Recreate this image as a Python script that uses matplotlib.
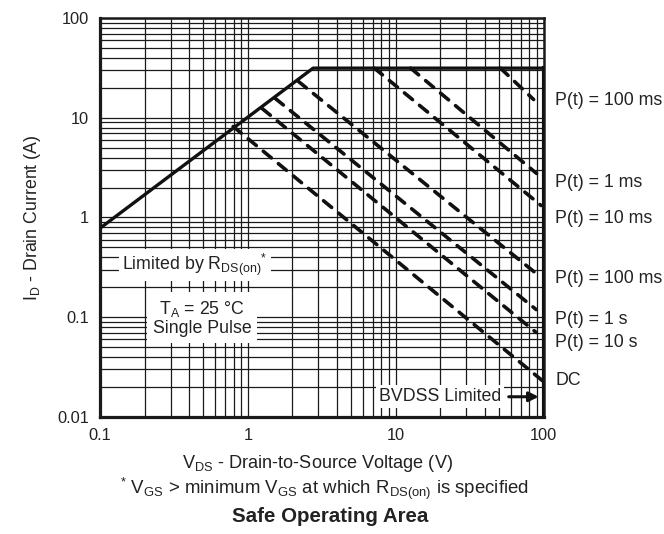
import matplotlib
matplotlib.use("Agg")
import matplotlib.pyplot as plt
from matplotlib.ticker import LogLocator, FixedLocator, NullFormatter

plt.rcParams['font.family'] = ['Liberation Sans', 'DejaVu Sans']
plt.rcParams['mathtext.fontset'] = 'custom'
plt.rcParams['mathtext.rm'] = 'Liberation Sans'
plt.rcParams['mathtext.it'] = 'Liberation Sans:italic'
plt.rcParams['mathtext.bf'] = 'Liberation Sans:bold'

# ---- data ----
x_ticks = [0.1, 1, 10, 100]
x_tick_labels = ["0.1", "1", "10", "100"]
y_ticks = [0.01, 0.1, 1, 10, 100]
y_tick_labels = ["0.01", "0.1", "1", "10", "100"]

# R_DS(on) / current limit line
vds_limit = [0.1, 2.76, 100]
id_limit = [0.78, 31.6, 31.6]

# BVDSS limit
vds_bv = [100, 100]
id_bv = [0.01, 31.6]

# pulse-width lines (start, end)
pulse_labels = ["P(t) = 100 ms", "P(t) = 1 ms", "P(t) = 10 ms", "P(t) = 100 ms",
                "P(t) = 1 s", "P(t) = 10 s", "DC"]
v_start = [51, 12.6, 7.16, 2.19, 1.53, 1.25, 0.795]
i_start = [31.6, 31.6, 31.6, 23.3, 15.7, 12.4, 8.2]
v_end = [85.5, 89.5, 96, 89, 89, 89, 98]
i_end = [15.3, 2.77, 1.32, 0.274, 0.119, 0.07, 0.023]
label_y = [0.794, 0.589, 0.498, 0.348, 0.243, 0.187, 0.092]

fig = plt.figure(figsize=(6.64, 5.34), dpi=100)
ax = fig.add_axes([0.1506, 0.2197, 0.6682, 0.7460])
ax.set_xscale('log')
ax.set_yscale('log')
ax.set_xlim(0.1, 100)
ax.set_ylim(0.01, 100)

ax.xaxis.set_major_locator(FixedLocator(x_ticks))
ax.yaxis.set_major_locator(FixedLocator(y_ticks))
ax.set_xticklabels(x_tick_labels)
ax.set_yticklabels(y_tick_labels)
ax.xaxis.set_minor_locator(LogLocator(base=10, subs=range(2, 10)))
ax.yaxis.set_minor_locator(LogLocator(base=10, subs=range(2, 10)))
ax.xaxis.set_minor_formatter(NullFormatter())
ax.yaxis.set_minor_formatter(NullFormatter())
ax.tick_params(which='both', length=0, labelsize=11.8, pad=8, labelcolor='#222222')
ax.grid(which='both', color='#1a1a1a', linewidth=0.9)
ax.set_axisbelow(True)
for s in ax.spines.values():
    s.set_linewidth(1.8)
    s.set_color('#1a1a1a')
ax.spines['left'].set_linewidth(2.3)
ax.spines['bottom'].set_linewidth(2.3)

ax.plot(vds_limit, id_limit, color='#111111', lw=2.4, solid_capstyle='butt', zorder=3)
ax.plot(vds_bv, id_bv, color='#111111', lw=3.0, zorder=3)

for vs, is_, ve, ie in zip(v_start, i_start, v_end, i_end):
    ax.plot([vs, ve], [is_, ie], color='#111111', lw=2.6,
            dashes=(2.9, 2.5), dash_capstyle='round', zorder=3)

for lab, ly in zip(pulse_labels, label_y):
    ax.text(1.026, ly, lab, transform=ax.transAxes, ha='left', va='center',
            fontsize=12.8, color='#222222')

bbox = dict(facecolor='white', edgecolor='none', pad=2.0)
ax.text(0.214, 0.38, r"Limited by R$_{\mathrm{DS(on)}}$$^{*}$", transform=ax.transAxes,
        ha='center', va='center', fontsize=12.8, color='#222222', bbox=bbox, zorder=4)
ax.text(0.23, 0.2475, "T$_{\\mathrm{A}}$ = 25 °C\nSingle Pulse", transform=ax.transAxes,
        ha='center', va='center', fontsize=12.8, color='#222222', linespacing=1.1,
        bbox=dict(facecolor='white', edgecolor='none', pad=4.0), zorder=4)
ax.text(0.766, 0.05, "BVDSS Limited", transform=ax.transAxes,
        ha='center', va='center', fontsize=12.8, color='#222222', bbox=bbox, zorder=4)
ax.annotate("", xy=(0.995, 0.05), xytext=(0.915, 0.05), xycoords='axes fraction',
            arrowprops=dict(arrowstyle='-|>', color='#111111', lw=2.2,
                            mutation_scale=14), zorder=5)

ax.set_ylabel(r"I$_{\mathrm{D}}$ - Drain Current (A)", fontsize=12.8, color='#222222',
              labelpad=10)
fig.text(317.5 / 664, 1 - 464 / 534, r"V$_{\mathrm{DS}}$ - Drain-to-Source Voltage (V)",
         ha='center', va='center', fontsize=13.1, color='#222222')
fig.text(324 / 664, 1 - 489 / 534,
         r"$^{*}$ V$_{\mathrm{GS}}$ > minimum V$_{\mathrm{GS}}$ at which R$_{\mathrm{DS(on)}}$ is specified",
         ha='center', va='center', fontsize=13.4, color='#222222')
fig.text(330 / 664, 1 - 517 / 534, "Safe Operating Area", ha='center', va='center',
         fontsize=14.8, fontweight='bold', color='#222222')

fig.savefig("out.png", dpi=100)
